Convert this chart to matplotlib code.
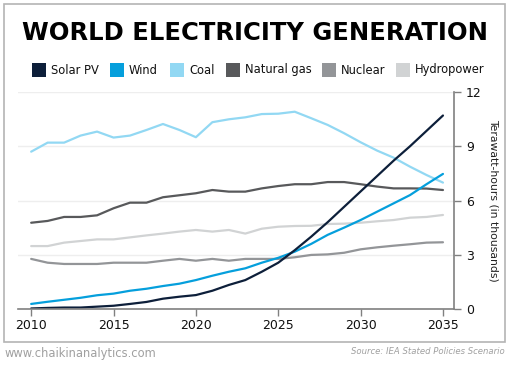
import matplotlib.pyplot as plt
from matplotlib.patches import Rectangle

years = list(range(2010, 2036))

solar = [0.03, 0.06, 0.08, 0.08, 0.13, 0.18, 0.28, 0.39, 0.57, 0.68, 0.77, 1.01, 1.33, 1.6, 2.06,
         2.56, 3.25, 4.0, 4.8, 5.65, 6.5, 7.35, 8.2, 9.0, 9.85, 10.7]
wind = [0.28, 0.4, 0.51, 0.62, 0.76, 0.85, 1.01, 1.12, 1.27, 1.4, 1.6, 1.84, 2.06, 2.25, 2.56,
        2.83, 3.17, 3.6, 4.1, 4.5, 4.92, 5.38, 5.84, 6.3, 6.9, 7.47]
coal = [8.7, 9.2, 9.2, 9.59, 9.81, 9.48, 9.59, 9.9, 10.23, 9.9, 9.5, 10.33, 10.49, 10.6, 10.78,
        10.8, 10.91, 10.55, 10.18, 9.72, 9.22, 8.76, 8.37, 7.87, 7.41, 6.99]
gas = [4.77, 4.87, 5.09, 5.09, 5.18, 5.57, 5.88, 5.88, 6.18, 6.29, 6.4, 6.58, 6.49, 6.49, 6.67,
       6.8, 6.9, 6.9, 7.02, 7.02, 6.9, 6.77, 6.67, 6.67, 6.66, 6.58]
nuclear = [2.77, 2.56, 2.49, 2.49, 2.49, 2.56, 2.56, 2.56, 2.67, 2.77, 2.67, 2.77, 2.67, 2.77, 2.77,
           2.77, 2.86, 2.99, 3.02, 3.11, 3.3, 3.41, 3.5, 3.58, 3.67, 3.69]
hydro = [3.48, 3.48, 3.67, 3.76, 3.85, 3.85, 3.96, 4.07, 4.17, 4.28, 4.37, 4.28, 4.37, 4.17, 4.44,
         4.55, 4.59, 4.6, 4.7, 4.72, 4.77, 4.85, 4.92, 5.05, 5.09, 5.2]

labels = ['Solar PV', 'Wind', 'Coal', 'Natural gas', 'Nuclear', 'Hydropower']
colors = ['#0d1f3a', '#059fdc', '#92d8f3', '#58595b', '#939598', '#d1d3d4']
series = [solar, wind, coal, gas, nuclear, hydro]

fig = plt.figure(figsize=(5.1, 3.66), dpi=100)
W, H = 510, 366

# borde gris
fig.add_artist(Rectangle((4 / W, 1 - 342 / H), 501 / W, 338 / H, transform=fig.transFigure,
                         fill=False, edgecolor='#b4b4b4', linewidth=1.2))

ax = fig.add_axes([18 / W, 1 - 309 / H, 436 / W, 217 / H])

# orden de dibujo: grises atrás, solar al frente
for i in [5, 4, 3, 2, 1, 0]:
    ax.plot(years, series[i], color=colors[i], linewidth=1.6, solid_capstyle='round')

ax.set_xlim(2009.2, 2035.67)
ax.set_ylim(0, 12)
ax.set_xticks([2010, 2015, 2020, 2025, 2030, 2035])
ax.set_yticks([0, 3, 6, 9, 12])
ax.yaxis.tick_right()
ax.yaxis.set_label_position('right')
ax.grid(axis='y', color='#eeeeee', linewidth=1)
ax.set_axisbelow(True)
for s in ['top', 'left']:
    ax.spines[s].set_visible(False)
for s in ['right', 'bottom']:
    ax.spines[s].set_color('#808080')
    ax.spines[s].set_linewidth(1.2)
ax.tick_params(axis='both', colors='#808080', labelcolor='#111111', labelsize=9, length=5, width=1)
ax.tick_params(axis='x', pad=2)
ax.set_ylabel('Terawatt-hours (in thousands)', rotation=-90, fontsize=7.8, color='#222222', labelpad=12)

fig.text(0.5, 1 - 33 / H, 'WORLD ELECTRICITY GENERATION', ha='center', va='center',
         fontsize=17.5, fontweight='heavy', family='DejaVu Sans', color='#000000')

# leyenda manual
leg_x = [32, 110, 170, 226, 322, 396]
for x, lab, c in zip(leg_x, labels, colors):
    fig.add_artist(Rectangle((x / W, 1 - 77 / H), 14 / W, 14 / H, transform=fig.transFigure,
                             facecolor=c, edgecolor='none'))
    fig.text((x + 19) / W, 1 - 70 / H, lab, ha='left', va='center', fontsize=8.3, color='#111111')

fig.text(5 / W, 1 - 353 / H, 'www.chaikinanalytics.com', ha='left', va='center',
         fontsize=8.3, color='#a0a0a0')
fig.text(505 / W, 1 - 352 / H, 'Source: IEA Stated Policies Scenario', ha='right', va='center',
         fontsize=6.1, style='italic', color='#a0a0a0')

fig.savefig('out.png', dpi=100)
